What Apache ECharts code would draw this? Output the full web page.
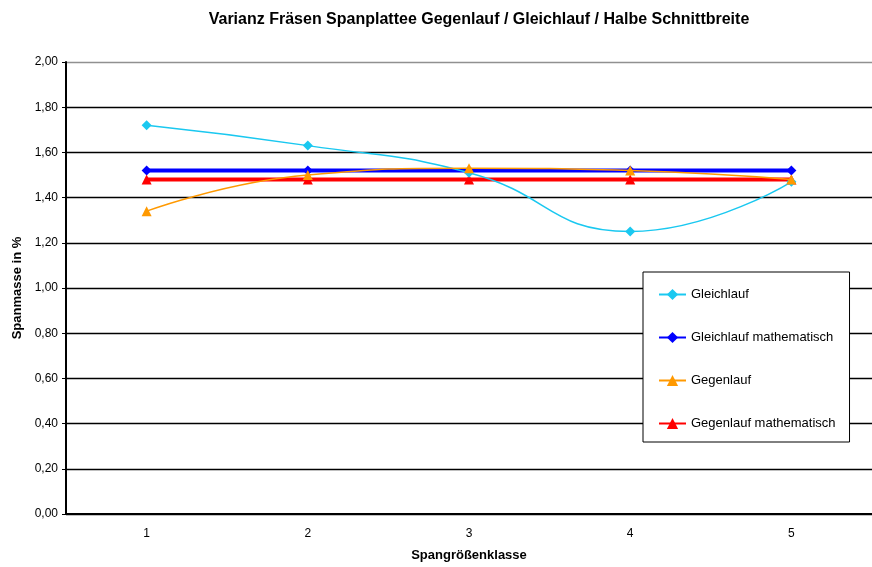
<!DOCTYPE html>
<html>
<head>
<meta charset="utf-8">
<script src="https://cdn.jsdelivr.net/npm/echarts@6/dist/echarts.min.js"></script>
<style>html,body{margin:0;padding:0;background:#fff}#c{width:872px;height:567px}</style>
</head>
<body>
<div id="c"></div>
<script>
var categories = ['1', '2', '3', '4', '5'];
var gleichlauf = [1.72, 1.63, 1.51, 1.25, 1.47];
var gleichlaufMath = [1.52, 1.52, 1.52, 1.52, 1.52];
var gegenlauf = [1.34, 1.50, 1.53, 1.52, 1.48];
var gegenlaufMath = [1.48, 1.48, 1.48, 1.48, 1.48];
var titleText = 'Varianz Fräsen Spanplattee Gegenlauf / Gleichlauf / Halbe Schnittbreite';

var font = 'Liberation Sans, Arial, sans-serif';
var chart = echarts.init(document.getElementById('c'), null, {renderer: 'canvas'});
function fmt(v){ return v.toFixed(2).replace('.', ','); }
var splitColors = ['#000','#000','#000','#000','#000','#000','#000','#000','#000','#000','#909090'];
chart.setOption({
  animation: false,
  backgroundColor: '#fff',
  title: {
    text: titleText, left: 474, textAlign: 'center', top: 7,
    textStyle: {fontFamily: font, fontSize: 16, fontWeight: 'bold', color: '#000'}
  },
  grid: {left: 66, width: 815, top: 62, bottom: 50, containLabel: false},
  legend: {
    orient: 'vertical', left: 643, top: 272,
    padding: [16, 14, 12, 15],
    itemGap: 30, itemWidth: 27, itemHeight: 14,
    backgroundColor: '#fff', borderColor: '#000', borderWidth: 1,
    textStyle: {fontFamily: font, fontSize: 13, color: '#000'},
    data: ['Gleichlauf', 'Gleichlauf mathematisch', 'Gegenlauf', 'Gegenlauf mathematisch']
  },
  xAxis: {
    type: 'category', data: categories, boundaryGap: true,
    name: 'Spangrößenklasse', nameLocation: 'middle', nameGap: 35,
    nameTextStyle: {fontFamily: font, fontSize: 13, fontWeight: 'bold', color: '#000'},
    axisLine: {lineStyle: {color: '#000', width: 2}},
    axisTick: {lineStyle: {color: '#000', width: 2}, length: 5, inside: false},
    axisLabel: {fontFamily: font, fontSize: 12, color: '#000', margin: 14}
  },
  yAxis: {
    type: 'value', min: 0, max: 2, interval: 0.2,
    name: 'Spanmasse in %', nameLocation: 'middle', nameGap: 41, nameRotate: 90,
    nameTextStyle: {fontFamily: font, fontSize: 13, fontWeight: 'bold', color: '#000'},
    axisLine: {show: true, lineStyle: {color: '#000', width: 2}},
    axisTick: {show: true, length: 4, lineStyle: {color: '#000', width: 1}},
    axisLabel: {fontFamily: font, fontSize: 12, color: '#000', margin: 8, formatter: fmt},
    splitLine: {lineStyle: {color: splitColors, width: 1.3}}
  },
  series: [
    {name: 'Gleichlauf', type: 'line', data: gleichlauf, smooth: 0.5, symbol: 'diamond', symbolSize: 10,
     itemStyle: {color: '#1ac8f0'}, lineStyle: {color: '#1ac8f0', width: 1.5}, z: 4},
    {name: 'Gleichlauf mathematisch', type: 'line', data: gleichlaufMath, symbol: 'diamond', symbolSize: 10,
     itemStyle: {color: '#0000ff'}, lineStyle: {color: '#0000ff', width: 4}, z: 3},
    {name: 'Gegenlauf', type: 'line', data: gegenlauf, smooth: 0.5, symbol: 'triangle', symbolSize: 10,
     itemStyle: {color: '#ff9900'}, lineStyle: {color: '#ff9900', width: 1.5}, z: 5},
    {name: 'Gegenlauf mathematisch', type: 'line', data: gegenlaufMath, symbol: 'triangle', symbolSize: 10,
     itemStyle: {color: '#ff0000'}, lineStyle: {color: '#ff0000', width: 4}, z: 3}
  ]
});
</script>
</body>
</html>
